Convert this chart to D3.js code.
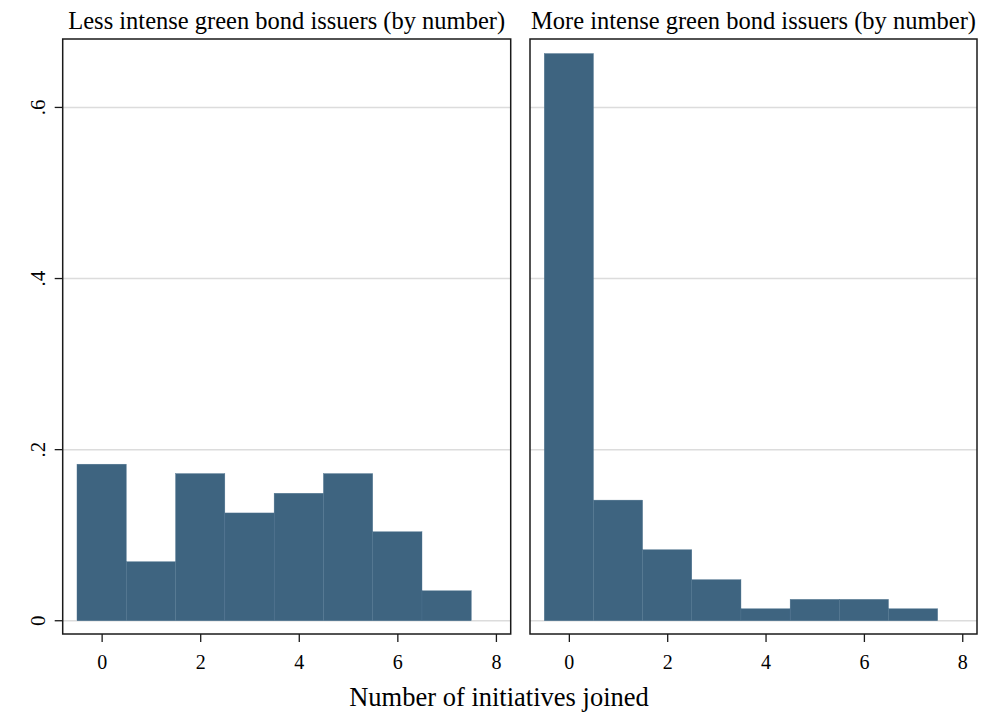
<!DOCTYPE html>
<html><head><meta charset="utf-8">
<script src="https://cdn.jsdelivr.net/npm/d3@7"></script>
<style>body{margin:0;background:#fff}svg{display:block}text{font-family:"Liberation Serif","Times New Roman",serif;fill:#000}</style>
</head><body>
<svg id="c" width="985" height="718"></svg>
<script>
const bins = [0,1,2,3,4,5,6,7];
const lessIntense = [0.183, 0.069, 0.172, 0.126, 0.149, 0.172, 0.104, 0.035];
const moreIntense = [0.663, 0.141, 0.083, 0.048, 0.014, 0.025, 0.025, 0.014];
const panelTitles = ["Less intense green bond issuers (by number)", "More intense green bond issuers (by number)"];
const xTicks = [0,2,4,6,8];
const yTicks = [0, 0.2, 0.4, 0.6];
const yTickLabels = ["0", ".2", ".4", ".6"];
const xTitle = "Number of initiatives joined";

const svg = d3.select("#c");
const panels = [
  {x0: 62.7, x1: 510.7, data: lessIntense, title: panelTitles[0], yAxis: true},
  {x0: 530, x1: 977, data: moreIntense, title: panelTitles[1], yAxis: false}
];
const plotTop = 39, plotBottom = 634;
const y = d3.scaleLinear().domain([-0.0155, 0.68]).range([plotBottom, plotTop]);

panels.forEach(p => {
  const x = d3.scaleLinear().domain([-0.79, 8.3]).range([p.x0, p.x1]);
  const g = svg.append("g");
  g.selectAll("line.grid").data(yTicks).join("line")
    .attr("x1", p.x0).attr("x2", p.x1)
    .attr("y1", d => y(d)).attr("y2", d => y(d))
    .attr("stroke", "#dcdcdc").attr("stroke-width", 1.5);
  g.selectAll("rect.bar").data(bins).join("rect")
    .attr("x", d => x(d - 0.5)).attr("width", d => x(d + 0.5) - x(d - 0.5))
    .attr("y", (d, i) => y(p.data[i])).attr("height", (d, i) => y(0) - y(p.data[i]))
    .attr("fill", "#3e6480").attr("stroke", "#4f7490").attr("stroke-width", 0.4);
  g.append("rect").attr("x", p.x0).attr("y", plotTop).attr("width", p.x1 - p.x0).attr("height", plotBottom - plotTop)
    .attr("fill", "none").attr("stroke", "#1a1a1a").attr("stroke-width", 1.5);
  const xa = g.append("g").attr("transform", `translate(0,${plotBottom})`)
    .call(d3.axisBottom(x).tickValues(xTicks).tickSize(8).tickPadding(12.5).tickFormat(d3.format("d")));
  xa.select(".domain").remove();
  xa.selectAll("line").attr("stroke", "#1a1a1a").attr("stroke-width", 1.3);
  xa.selectAll("text").attr("font-size", 20).attr("font-family", '"Liberation Serif",serif');
  g.append("text").attr("x", (p.x0 + p.x1) / 2).attr("y", 29).attr("text-anchor", "middle")
    .attr("font-size", 24.5).text(p.title);
  if (p.yAxis) {
    const ya = g.append("g").attr("transform", `translate(${p.x0},0)`)
      .call(d3.axisLeft(y).tickValues(yTicks).tickSize(8).tickFormat((d, i) => yTickLabels[i]));
    ya.select(".domain").remove();
    ya.selectAll("line").attr("stroke", "#1a1a1a").attr("stroke-width", 1.3);
    ya.selectAll(".tick").attr("transform", null);
    ya.selectAll(".tick line").attr("y1", d => y(d)).attr("y2", d => y(d));
    ya.selectAll("text").attr("font-size", 21).attr("font-family", '"Liberation Serif",serif')
      .attr("text-anchor", "middle").attr("x", 0).attr("dy", 0).attr("y", 0)
      .attr("transform", d => `translate(-18,${y(d)}) rotate(-90)`);
  }
});

svg.append("text").attr("x", 499).attr("y", 706).attr("text-anchor", "middle")
  .attr("font-size", 26.5).text(xTitle);
</script>
</body></html>
